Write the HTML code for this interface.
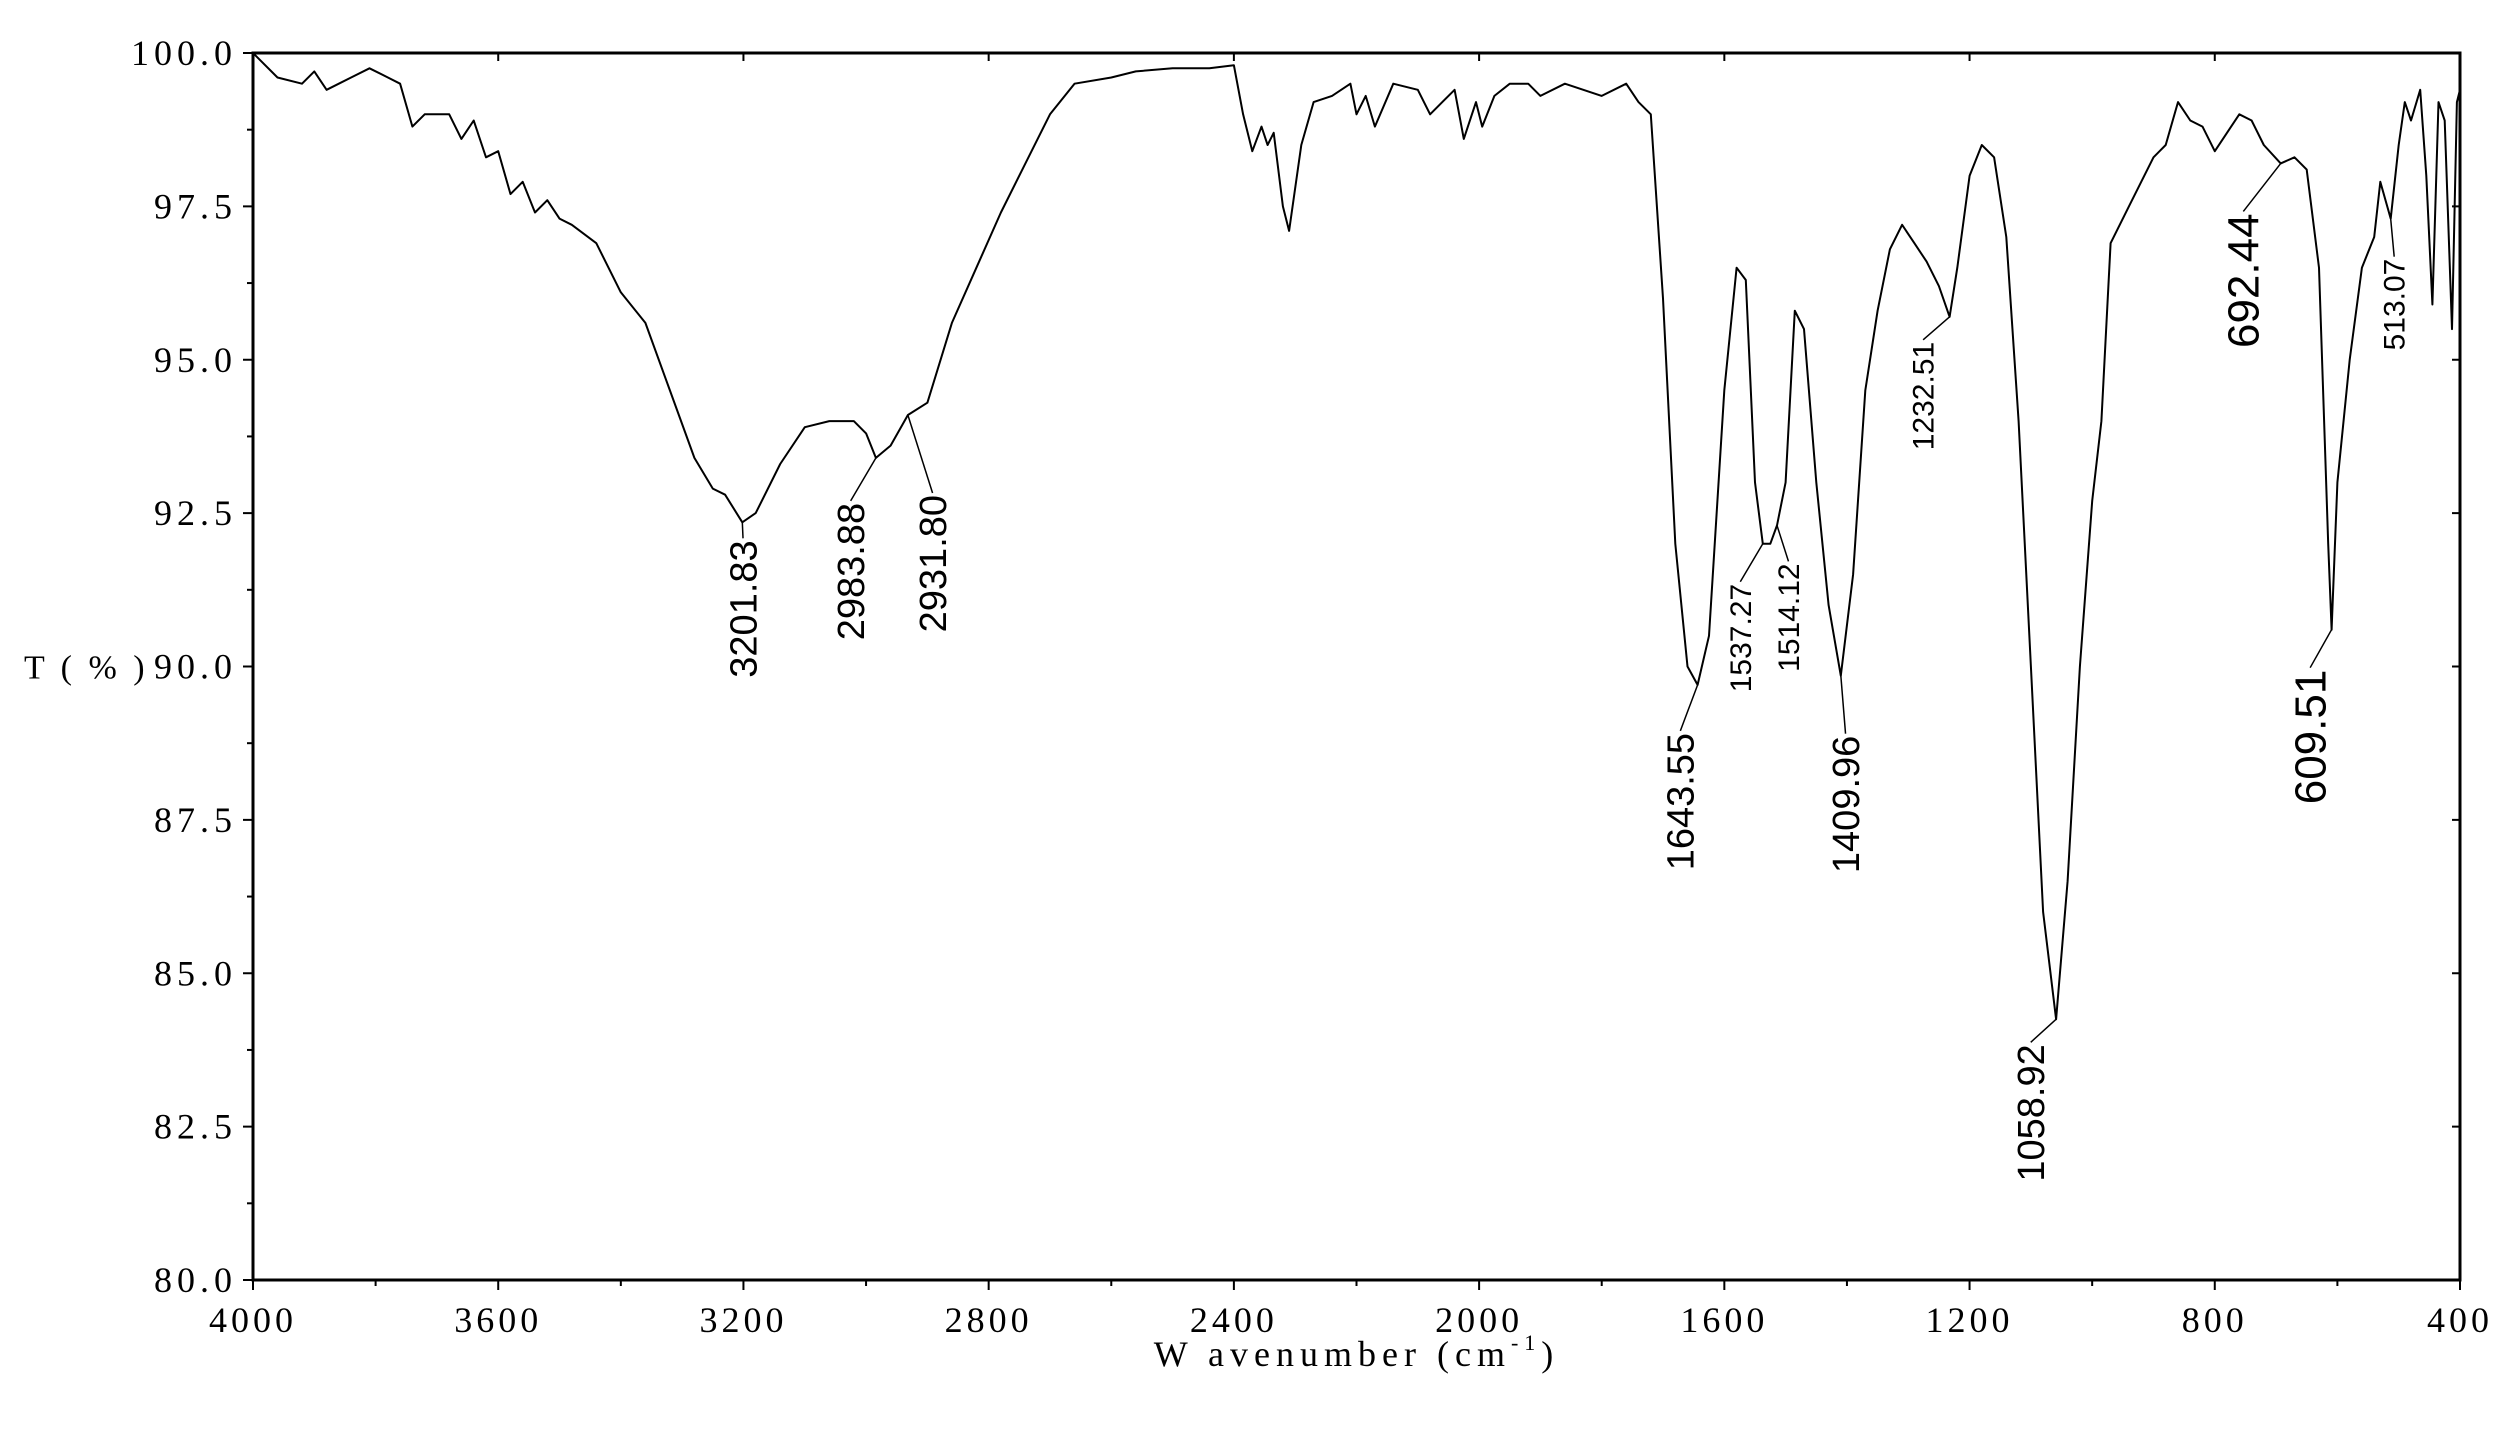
<!DOCTYPE html>
<html><head><meta charset="utf-8"><style>
html,body{margin:0;padding:0;background:#fff;}
svg{display:block;}
</style></head><body>
<svg id="chart" width="2502" height="1437" viewBox="0 0 2502 1437" xmlns="http://www.w3.org/2000/svg">
<g id="axes"></g>
<g id="series"></g>
<g id="annots"></g>
</svg>
<script>
const wavenumbers = [4000,3960,3920,3900,3880,3860,3840,3810,3780,3760,3740,3720,3680,3660,3640,3620,3600,3580,3560,3540,3520,3500,3480,3440,3400,3360,3320,3280,3250,3230,3201.8,3180,3140,3100,3060,3020,3000,2983.9,2960,2931.8,2900,2860,2820,2780,2740,2700,2660,2600,2560,2500,2440,2400,2385,2370,2355,2345,2335,2320,2310,2290,2270,2240,2210,2200,2185,2170,2140,2100,2080,2060,2040,2025,2005,1995,1975,1950,1920,1900,1860,1800,1760,1740,1720,1700,1680,1660,1643.6,1625,1600,1580,1565,1550,1537.3,1525,1514.1,1500,1485,1470,1450,1430,1410,1390,1370,1350,1330,1310,1290,1270,1250,1232.5,1220,1200,1180,1160,1140,1120,1100,1080,1058.9,1040,1020,1000,985,970,940,900,880,860,840,820,800,780,760,740,720,692.4,670,650,630,615,609.5,600,580,560,540,530,513.1,500,490,480,465,455,445,435,425,413,405,400];
const transmittance = [100.0,99.6,99.5,99.7,99.4,99.5,99.6,99.75,99.6,99.5,98.8,99.0,99.0,98.6,98.9,98.3,98.4,97.7,97.9,97.4,97.6,97.3,97.2,96.9,96.1,95.6,94.5,93.4,92.9,92.8,92.35,92.5,93.3,93.9,94.0,94.0,93.8,93.4,93.6,94.1,94.3,95.6,96.5,97.4,98.2,99.0,99.5,99.6,99.7,99.75,99.75,99.8,99.0,98.4,98.8,98.5,98.7,97.5,97.1,98.5,99.2,99.3,99.5,99.0,99.3,98.8,99.5,99.4,99.0,99.2,99.4,98.6,99.2,98.8,99.3,99.5,99.5,99.3,99.5,99.3,99.5,99.2,99.0,96.0,92.0,90.0,89.7,90.5,94.5,96.5,96.3,93.0,92.0,92.0,92.3,93.0,95.8,95.5,93.0,91.0,89.85,91.5,94.5,95.8,96.8,97.2,96.9,96.6,96.2,95.7,96.5,98.0,98.5,98.3,97.0,94.0,90.0,86.0,84.25,86.5,90.0,92.7,94.0,96.9,97.5,98.3,98.5,99.2,98.9,98.8,98.4,98.7,99.0,98.9,98.5,98.2,98.3,98.1,96.5,92.0,90.6,93.0,95.0,96.5,97.0,97.9,97.3,98.5,99.2,98.9,99.4,98.0,95.9,99.2,98.9,95.5,99.2,99.4];
const xTicks = [4000,3600,3200,2800,2400,2000,1600,1200,800,400];
const yTicks = [100.0,97.5,95.0,92.5,90.0,87.5,85.0,82.5,80.0];
const peakLabels = ["3201.83","2983.88","2931.80","1643.55","1537.27","1514.12","1409.96","1232.51","1058.92","692.44","609.51","513.07"];
const peakWn = [3201.83,2983.88,2931.80,1643.55,1537.27,1514.12,1409.96,1232.51,1058.92,692.44,609.51,513.07];
const peakT = [92.35,93.4,94.1,89.7,92.0,92.3,89.85,95.7,84.25,98.2,90.6,97.3];

const L=253,R=2460,T0=53,B=1280;
const xs=w=>L+(4000-w)/3600*(R-L);
const ys=v=>T0+(100-v)/20*(B-T0);
const NS="http://www.w3.org/2000/svg";
function mk(tag,parent,attrs){const e=document.createElementNS(NS,tag);for(const k in attrs)e.setAttribute(k,attrs[k]);parent.appendChild(e);return e;}
const axes=document.getElementById('axes');
const frame=mk('rect',axes,{x:L,y:T0,width:R-L,height:B-T0,fill:'none',stroke:'#000','stroke-width':3});


xTicks.forEach(w=>{
  const x=xs(w);
  const t=mk('line',axes,{x1:x,y1:B,x2:x,y2:B+10,stroke:'#000','stroke-width':2});
  
  
  const tt=mk('line',axes,{x1:x,y1:T0,x2:x,y2:T0+8,stroke:'#000','stroke-width':2});
  
  
  if(w>400){const m=xs(w-200);const mt=mk('line',axes,{x1:m,y1:B,x2:m,y2:B+6,stroke:'#000','stroke-width':2});
    
    }
  const lb=mk('text',axes,{x:x,y:B+52,'text-anchor':'middle','font-family':'Liberation Serif, serif','font-size':36,'letter-spacing':4});
  lb.textContent=w;
  
  
});
yTicks.forEach(v=>{
  const y=ys(v);
  const t=mk('line',axes,{x1:L-10,y1:y,x2:L,y2:y,stroke:'#000','stroke-width':2});
  
  
  if(v>80){const m=ys(v-1.25);
    const mt=mk('line',axes,{x1:L-6,y1:m,x2:L,y2:m,stroke:'#000','stroke-width':2});
    
    }
  const rt=mk('line',axes,{x1:R-8,y1:y,x2:R,y2:y,stroke:'#000','stroke-width':2});
  
  
  const lb=mk('text',axes,{x:L-16,y:y+12,'text-anchor':'end','font-family':'Liberation Serif, serif','font-size':36,'letter-spacing':5});
  lb.textContent=v.toFixed(1);
  
  
});
const yt=mk('text',axes,{x:24,y:ys(90)+12,'font-family':'Liberation Serif, serif','font-size':34,'letter-spacing':4});
yt.textContent='T ( % )';


const xt=mk('text',axes,{x:(L+R)/2,y:1366,'text-anchor':'middle','font-family':'Liberation Serif, serif','font-size':36,'letter-spacing':6});
xt.innerHTML='W avenumber (cm<tspan dy="-16" font-size="22">-1</tspan><tspan dy="16">)</tspan>';


const pts=wavenumbers.map((w,i)=>xs(w).toFixed(1)+','+ys(transmittance[i]).toFixed(1)).join(' ');
const pl=mk('polyline',document.getElementById('series'),{points:pts,fill:'none',stroke:'#000','stroke-width':2,'stroke-linejoin':'round'});


const an=document.getElementById('annots');
const small=["1537.27","1514.12","1232.51","513.07"];
const big=["692.44","609.51"];
const lblDx=[14,-12,38,-4,-12,22,18,-16,-12,-22,-6,14];
const lblGap=[18,45,80,48,40,38,60,25,25,50,40,40];
peakLabels.forEach((s,i)=>{
  const px=xs(peakWn[i]),py=ys(peakT[i]);
  const fs=small.includes(s)?30:(big.includes(s)?44:38);
  const tx=px+lblDx[i],ty=py+lblGap[i];
  const ln=mk('line',an,{x1:px,y1:py,x2:tx-fs*0.35,y2:ty-2,stroke:'#000','stroke-width':1.5});
  
  
  const tx2=mk('text',an,{x:tx,y:ty,'text-anchor':'end','font-family':'Liberation Sans, sans-serif','font-size':fs,transform:`rotate(-90 ${tx} ${ty})`});
  tx2.textContent=s;
  
  
});
</script>
</body></html>
